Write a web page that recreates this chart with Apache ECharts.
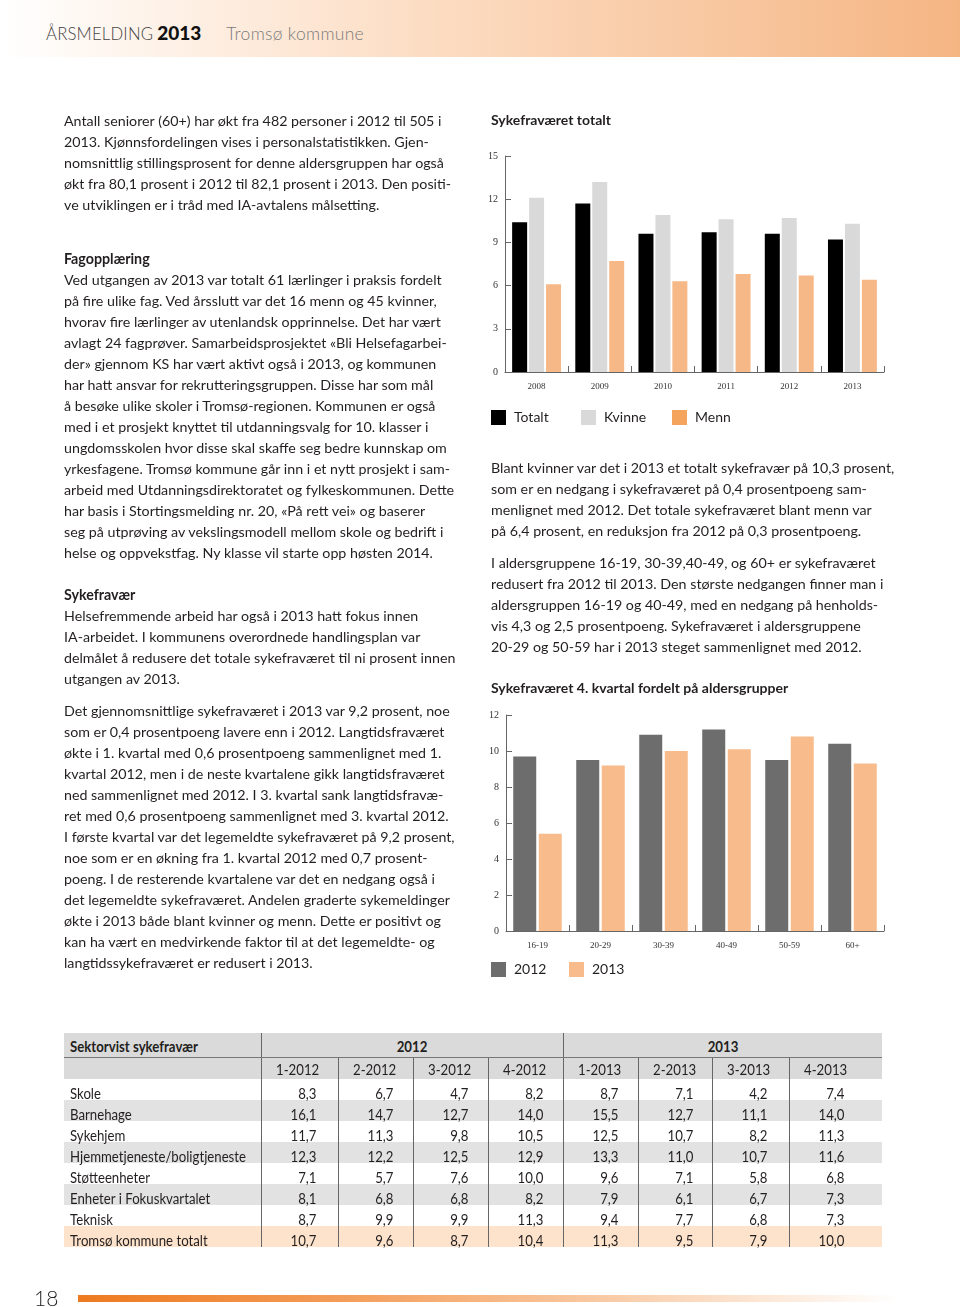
<!DOCTYPE html>
<html lang="no">
<head>
<meta charset="utf-8">
<title>Årsmelding 2013 – Tromsø kommune</title>
<script src="https://cdn.jsdelivr.net/npm/echarts@6/dist/echarts.min.js"></script>
<style>
  html, body { margin: 0; padding: 0; background: #fff; }
  #page { position: relative; width: 960px; height: 1307px; overflow: hidden; background: #fff; }
  #hdr { position: absolute; left: 0; top: 0; width: 960px; height: 57px;
         background: linear-gradient(to right, #ffffff 0%, #fef3ea 15%, #fcdcc2 45%, #f8c7a0 75%, #f5b583 100%); }
  #hdrText { position: absolute; left: 46px; top: 21px; font-family: 'Lato', sans-serif; white-space: nowrap; }
  #hdrText .a { font-weight: 300; font-size: 16.7px; color: #444; letter-spacing: 0.2px; }
  #hdrText .b { font-weight: 900; font-size: 19px; color: #111; margin-left: 4px; }
  #hdrText .c { font-weight: 300; font-size: 17.5px; color: #7a7a7a; margin-left: 25px; letter-spacing: 0.3px; }
  #chart { position: absolute; left: 0; top: 0; width: 960px; height: 1307px; }
  .txt { position: absolute; line-height: 21px; white-space: nowrap; color: #231f20;
         font-family: 'Lato', sans-serif; font-size: 14px; z-index: 2; }
  .txt b { font-weight: 700; }
  #tbl { position: absolute; left: 64px; top: 1033px; border-collapse: collapse; table-layout: fixed;
         font-family: 'Lato', sans-serif; font-size: 15.5px; color: #231f20; z-index: 2; }
  #tbl td { padding: 0; white-space: nowrap; overflow: visible; vertical-align: middle; }
  #tbl tr.h1 td { background: #dadada; height: 24px; font-weight: 700; border-bottom: 1px solid #777; line-height: 18px; }
  #tbl tr.h1 span.sx { position: relative; top: 1px; }
  #tbl tr.h2 td { background: #dadada; height: 21px; line-height: 18px; }
  #tbl tr.b td { height: 21px; line-height: 18px; }
  #tbl tr.b span.sx { position: relative; top: 3px; }
  #tbl tr.b.alt td { background: #e2e2e2; }
  #tbl tr.b.tot td { background: #fde3cb; }
  #tbl td.lab { padding-left: 6px; }
  #tbl td.num { border-left: 1px solid #666; padding-left: 14px; }
  #tbl td.num span.box { display: inline-block; width: 41px; text-align: right; }
  #tbl td.grp { border-left: 1px solid #666; text-align: center; }
  #tbl tr.h2 td.num span.box { text-align: left; }
  #tbl span.sx { display: inline-block; }
  #pgnum { position: absolute; left: 34px; top: 1285px; font-family: 'Lato', sans-serif; font-weight: 300;
           font-size: 21px; color: #222; }
  #pgbar { position: absolute; left: 78px; top: 1295px; width: 820px; height: 7px;
           background: linear-gradient(to right, #ee7a1f 0%, #f39a55 30%, #f8c49a 60%, rgba(255,255,255,0) 100%); }
</style>
</head>
<body>
<div id="page">
  <div id="hdr"></div>
  <div id="hdrText"><span class="a">ÅRSMELDING</span><span class="b">2013</span><span class="c">Tromsø kommune</span></div>
  <div id="chart"></div>

  <div class="txt" style="left:64px; top:109.5px;">Antall seniorer (60+) har økt fra 482 personer i 2012 til 505 i<br>2013. Kjønnsfordelingen vises i personalstatistikken. Gjen-<br>nomsnittlig stillingsprosent for denne aldersgruppen har også<br>økt fra 80,1 prosent i 2012 til 82,1 prosent i 2013. Den positi-<br>ve utviklingen er i tråd med IA-avtalens målsetting.</div>

  <div class="txt" style="left:64px; top:247.5px;"><b>Fagopplæring</b><br>Ved utgangen av 2013 var totalt 61 lærlinger i praksis fordelt<br>på fire ulike fag. Ved årsslutt var det 16 menn og 45 kvinner,<br>hvorav fire lærlinger av utenlandsk opprinnelse. Det har vært<br>avlagt 24 fagprøver. Samarbeidsprosjektet «Bli Helsefagarbei-<br>der» gjennom KS har vært aktivt også i 2013, og kommunen<br>har hatt ansvar for rekrutteringsgruppen. Disse har som mål<br>å besøke ulike skoler i Tromsø-regionen. Kommunen er også<br>med i et prosjekt knyttet til utdanningsvalg for 10. klasser i<br>ungdomsskolen hvor disse skal skaffe seg bedre kunnskap om<br>yrkesfagene. Tromsø kommune går inn i et nytt prosjekt i sam-<br>arbeid med Utdanningsdirektoratet og fylkeskommunen. Dette<br>har basis i Stortingsmelding nr. 20, «På rett vei» og baserer<br>seg på utprøving av vekslingsmodell mellom skole og bedrift i<br>helse og oppvekstfag. Ny klasse vil starte opp høsten 2014.</div>

  <div class="txt" style="left:64px; top:583.5px;"><b>Sykefravær</b><br>Helsefremmende arbeid har også i 2013 hatt fokus innen<br>IA-arbeidet. I kommunens overordnede handlingsplan var<br>delmålet å redusere det totale sykefraværet til ni prosent innen<br>utgangen av 2013.</div>

  <div class="txt" style="left:64px; top:699.5px;">Det gjennomsnittlige sykefraværet i 2013 var 9,2 prosent, noe<br>som er 0,4 prosentpoeng lavere enn i 2012. Langtidsfraværet<br>økte i 1. kvartal med 0,6 prosentpoeng sammenlignet med 1.<br>kvartal 2012, men i de neste kvartalene gikk langtidsfraværet<br>ned sammenlignet med 2012. I 3. kvartal sank langtidsfravæ-<br>ret med 0,6 prosentpoeng sammenlignet med 3. kvartal 2012.<br>I første kvartal var det legemeldte sykefraværet på 9,2 prosent,<br>noe som er en økning fra 1. kvartal 2012 med 0,7 prosent-<br>poeng. I de resterende kvartalene var det en nedgang også i<br>det legemeldte sykefraværet. Andelen graderte sykemeldinger<br>økte i 2013 både blant kvinner og menn. Dette er positivt og<br>kan ha vært en medvirkende faktor til at det legemeldte- og<br>langtidssykefraværet er redusert i 2013.</div>

  <div class="txt" style="left:491px; top:456.5px;">Blant kvinner var det i 2013 et totalt sykefravær på 10,3 prosent,<br>som er en nedgang i sykefraværet på 0,4 prosentpoeng sam-<br>menlignet med 2012. Det totale sykefraværet blant menn var<br>på 6,4 prosent, en reduksjon fra 2012 på 0,3 prosentpoeng.</div>

  <div class="txt" style="left:491px; top:551.5px;">I aldersgruppene 16-19, 30-39,40-49, og 60+ er sykefraværet<br>redusert fra 2012 til 2013. Den største nedgangen finner man i<br>aldersgruppen 16-19 og 40-49, med en nedgang på henholds-<br>vis 4,3 og 2,5 prosentpoeng. Sykefraværet i aldersgruppene<br>20-29 og 50-59 har i 2013 steget sammenlignet med 2012.</div>

  <table id="tbl"></table>

  <div id="pgnum">18</div>
  <div id="pgbar"></div>
</div>

<script>
// ---------- Chart 1: Sykefraværet totalt ----------
const years  = ['2008', '2009', '2010', '2011', '2012', '2013'];
const totalt = [10.4, 11.7, 9.6, 9.7, 9.6, 9.2];
const kvinne = [12.1, 13.2, 10.9, 10.6, 10.7, 10.3];
const menn   = [6.1, 7.7, 6.3, 6.8, 6.7, 6.4];

// ---------- Chart 2: 4. kvartal fordelt på aldersgrupper ----------
const ageGroups = ['16-19', '20-29', '30-39', '40-49', '50-59', '60+'];
const age2012   = [9.7, 9.5, 10.9, 11.2, 9.5, 10.4];
const age2013   = [5.4, 9.2, 10.0, 10.1, 10.8, 9.3];

// ---------- Table: Sektorvist sykefravær ----------
const sectors  = ['Skole', 'Barnehage', 'Sykehjem', 'Hjemmetjeneste/boligtjeneste', 'Støtteenheter',
                  'Enheter i Fokuskvartalet', 'Teknisk', 'Tromsø kommune totalt'];
const quarters = ['1-2012', '2-2012', '3-2012', '4-2012', '1-2013', '2-2013', '3-2013', '4-2013'];
const q1_2012 = [8.3, 16.1, 11.7, 12.3, 7.1, 8.1, 8.7, 10.7];
const q2_2012 = [6.7, 14.7, 11.3, 12.2, 5.7, 6.8, 9.9, 9.6];
const q3_2012 = [4.7, 12.7, 9.8, 12.5, 7.6, 6.8, 9.9, 8.7];
const q4_2012 = [8.2, 14.0, 10.5, 12.9, 10.0, 8.2, 11.3, 10.4];
const q1_2013 = [8.7, 15.5, 12.5, 13.3, 9.6, 7.9, 9.4, 11.3];
const q2_2013 = [7.1, 12.7, 10.7, 11.0, 7.1, 6.1, 7.7, 9.5];
const q3_2013 = [4.2, 11.1, 8.2, 10.7, 5.8, 6.7, 6.8, 7.9];
const q4_2013 = [7.4, 14.0, 11.3, 11.6, 6.8, 7.3, 7.3, 10.0];

function measure(text, font) {
  const probe = document.createElement('span');
  probe.style.cssText = 'position:absolute;visibility:hidden;white-space:nowrap;font:' + font + ';';
  probe.textContent = text;
  document.body.appendChild(probe);
  const w = probe.getBoundingClientRect().width;
  document.body.removeChild(probe);
  return w;
}

// ---------- fit body font so a reference line matches the page measure ----------
(function fitFont() {
  const w = measure('Ved utgangen av 2013 var totalt 61 lærlinger i praksis fordelt', "14px 'Lato', sans-serif");
  const fs = Math.max(12, Math.min(16, 14 * 378 / w));
  document.querySelectorAll('.txt').forEach(el => { el.style.fontSize = fs.toFixed(2) + 'px'; });
})();

// ---------- build table (condensed look via horizontal scale) ----------
(function buildTable() {
  const k = Math.min(1, 176 / measure('Hjemmetjeneste/boligtjeneste', "15.5px 'Lato', sans-serif"));
  const sx = (t, origin) => '<span class="sx" style="transform:scaleX(' + k.toFixed(3) + ');transform-origin:' + origin + ' center">' + t + '</span>';
  const cols = [q1_2012, q2_2012, q3_2012, q4_2012, q1_2013, q2_2013, q3_2013, q4_2013];
  const widths = [197, 77, 75, 75, 75, 75, 74, 77, 93];
  const fmt = v => v.toFixed(1).replace('.', ',');
  let html = '<colgroup>' + widths.map(w => '<col style="width:' + w + 'px">').join('') + '</colgroup>';
  html += '<tr class="h1"><td class="lab">' + sx('Sektorvist sykefravær', 'left') + '</td>' +
          '<td class="grp" colspan="4">' + sx('2012', 'center') + '</td>' +
          '<td class="grp" colspan="4">' + sx('2013', 'center') + '</td></tr>';
  html += '<tr class="h2"><td class="lab"></td>' +
          quarters.map(q => '<td class="num"><span class="box">' + sx(q, 'left') + '</span></td>').join('') + '</tr>';
  sectors.forEach((s, i) => {
    const cls = 'b' + (i === sectors.length - 1 ? ' tot' : (i % 2 === 1 ? ' alt' : ''));
    html += '<tr class="' + cls + '"><td class="lab">' + sx(s, 'left') + '</td>' +
            cols.map(c => '<td class="num"><span class="box">' + sx(fmt(c[i]), 'right') + '</span></td>').join('') + '</tr>';
  });
  const tbl = document.getElementById('tbl');
  tbl.innerHTML = html;
  tbl.style.width = widths.reduce((a, b) => a + b, 0) + 'px';
})();

// ---------- charts ----------
const chart = echarts.init(document.getElementById('chart'), null, { renderer: 'canvas' });
const axisColor = '#666';
const serif = "'Liberation Serif', 'DejaVu Serif', serif";
const sans = "'Lato', sans-serif";

function catAxis(gridIndex, data) {
  return {
    gridIndex, type: 'category', data,
    axisLine: { lineStyle: { color: axisColor, width: 1 } },
    axisTick: { show: true, inside: true, length: 6, alignWithLabel: false, lineStyle: { color: axisColor } },
    axisLabel: { fontFamily: serif, fontSize: 9, color: '#333', margin: 10 },
    splitLine: { show: false }
  };
}
function valAxis(gridIndex, max, interval) {
  return {
    gridIndex, type: 'value', min: 0, max, interval,
    axisLine: { show: true, lineStyle: { color: axisColor, width: 1 } },
    axisTick: { show: true, inside: true, length: 6, lineStyle: { color: axisColor } },
    axisLabel: { fontFamily: serif, fontSize: 10, color: '#333', margin: 7 },
    splitLine: { show: false }
  };
}
const legendText = { fontFamily: sans, fontSize: 14, color: '#231f20', padding: [0, 0, 0, 3] };
function legend(name, left, top, color) {
  const item = color ? { name, itemStyle: { color } } : { name };
  return { data: [item], left, top, padding: 0, icon: 'rect', itemWidth: 15, itemHeight: 15,
           selectedMode: false, textStyle: legendText };
}

chart.setOption({
  animation: false,
  backgroundColor: 'transparent',
  title: [
    { text: 'Sykefraværet totalt', left: 491, top: 112, padding: 0,
      textStyle: { fontFamily: sans, fontWeight: 'bold', fontSize: 14, color: '#231f20', lineHeight: 16 } },
    { text: 'Sykefraværet 4. kvartal fordelt på aldersgrupper', left: 491, top: 680, padding: 0,
      textStyle: { fontFamily: sans, fontWeight: 'bold', fontSize: 14, color: '#231f20', lineHeight: 16 } }
  ],
  legend: [
    legend('Totalt', 491, 410),
    legend('Kvinne', 581, 410),
    legend('Menn', 672, 410, '#f5a45e'),
    legend('2012', 491, 962),
    legend('2013', 569, 962)
  ],
  grid: [
    { left: 505, top: 156, width: 379, height: 216 },
    { left: 506, top: 715, width: 378, height: 216 }
  ],
  xAxis: [catAxis(0, years), catAxis(1, ageGroups)],
  yAxis: [valAxis(0, 15, 3), valAxis(1, 12, 2)],
  series: [
    { name: 'Totalt', type: 'bar', xAxisIndex: 0, yAxisIndex: 0, data: totalt, barWidth: 15, barGap: '13%', itemStyle: { color: '#000000' } },
    { name: 'Kvinne', type: 'bar', xAxisIndex: 0, yAxisIndex: 0, data: kvinne, barWidth: 15, barGap: '13%', itemStyle: { color: '#d9d9d9' } },
    { name: 'Menn',   type: 'bar', xAxisIndex: 0, yAxisIndex: 0, data: menn,   barWidth: 15, barGap: '13%', itemStyle: { color: '#f7b887' } },
    { name: '2012', type: 'bar', xAxisIndex: 1, yAxisIndex: 1, data: age2012, barWidth: 23, barGap: '11%', itemStyle: { color: '#6d6d6d' } },
    { name: '2013', type: 'bar', xAxisIndex: 1, yAxisIndex: 1, data: age2013, barWidth: 23, barGap: '11%', itemStyle: { color: '#f8bb8b' } }
  ]
});
</script>
</body>
</html>
